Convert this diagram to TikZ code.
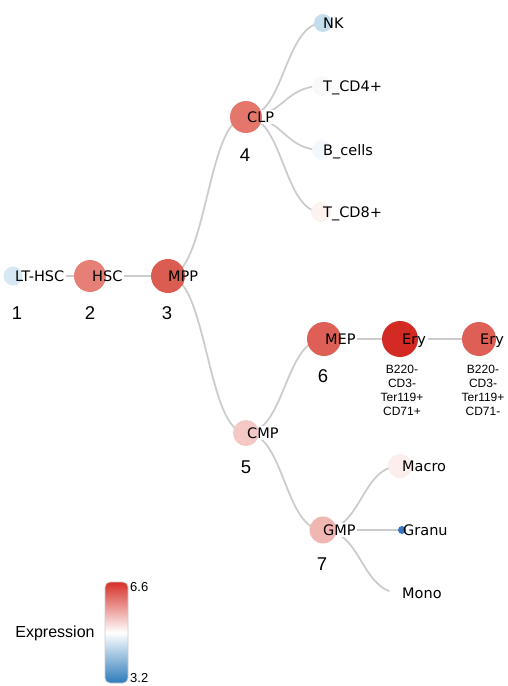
\documentclass[tikz,border=0pt]{standalone}
\usepackage{fontspec}
\setmainfont{DejaVu Sans}
\newfontfamily\arialf{Liberation Sans}
\usetikzlibrary{calc}
\pgfdeclarelayer{edges}
\pgfdeclarelayer{boxes}
\pgfdeclarelayer{cells}
\pgfsetlayers{edges,boxes,cells,main}
\definecolor{edgec}{RGB}{204,204,204}
\definecolor{cLT}{RGB}{214,232,243}
\definecolor{cHSC}{RGB}{230,128,118}
\definecolor{cMPP}{RGB}{219,92,80}
\definecolor{cCLP}{RGB}{228,118,108}
\definecolor{cCMP}{RGB}{244,200,197}
\definecolor{cMEP}{RGB}{221,95,85}
\definecolor{cEryA}{RGB}{211,43,35}
\definecolor{cEryB}{RGB}{221,95,85}
\definecolor{cGMP}{RGB}{239,182,178}
\definecolor{cNK}{RGB}{196,222,238}
\definecolor{cCDf}{RGB}{250,249,249}
\definecolor{cBc}{RGB}{244,248,252}
\definecolor{cCDe}{RGB}{252,243,240}
\definecolor{cMacro}{RGB}{251,238,236}
\definecolor{cGranu}{RGB}{50,120,190}
\definecolor{cMono}{RGB}{255,255,255}
\definecolor{cbred}{RGB}{214,48,39}
\definecolor{cbblue}{RGB}{44,123,186}
\begin{document}
\begin{tikzpicture}[x=1pt,y=-1pt,
  cell/.style={circle,inner sep=0pt,draw=none},
  lbl/.style={anchor=base west,inner sep=0pt,font=\fontsize{14.5}{17}\selectfont,yshift=-5.3pt},
  num/.style={font=\arialf\fontsize{18.5}{20}\selectfont,inner sep=0pt},
  sub/.style={font=\arialf\fontsize{12}{14.2}\selectfont,align=center,inner sep=0pt,anchor=north},
  link/.style={draw=edgec,line width=1.8pt,
    to path={let \p1=(\tikztostart), \p2=(\tikztotarget) in
      .. controls ({0.5*\x1+0.5*\x2},\y1) and ({0.5*\x1+0.5*\x2},\y2) .. (\tikztotarget)}}]
\useasboundingbox (0,0) rectangle (508,686);
% cells
\begin{pgfonlayer}{cells}
\node[cell,fill=cLT,minimum size=19pt] (lt) at (13,276) {};
\node[cell,fill=cHSC,minimum size=32pt] (hsc) at (90,276) {};
\node[cell,fill=cMPP,minimum size=34pt] (mpp) at (168,276) {};
\node[cell,fill=cCLP,minimum size=32pt] (clp) at (246,117) {};
\node[cell,fill=cCMP,minimum size=26pt] (cmp) at (246,433) {};
\node[cell,fill=cMEP,minimum size=34pt] (mep) at (324,339) {};
\node[cell,fill=cEryA,minimum size=36pt] (eryA) at (400,339) {};
\node[cell,fill=cEryB,minimum size=34pt] (eryB) at (479,339) {};
\node[cell,fill=cGMP,minimum size=27pt] (gmp) at (323,530) {};
\node[cell,fill=cNK,minimum size=18pt] (nk) at (323,23) {};
\node[cell,fill=cCDf,minimum size=20pt] (cdf) at (322,86) {};
\node[cell,fill=cBc,minimum size=20pt] (bc) at (322,150) {};
\node[cell,fill=cCDe,minimum size=20pt] (cde) at (321,212) {};
\node[cell,fill=cMacro,minimum size=24pt] (macro) at (400,466) {};
\node[cell,fill=cGranu,minimum size=8pt] (granu) at (402,530) {};
\node[cell,fill=cMono,minimum size=22pt] (mono) at (400,593) {};
\end{pgfonlayer}
% links
\begin{pgfonlayer}{edges}
\draw[link] (lt.center) to (hsc.center);
\draw[link] (hsc.center) to (mpp.center);
\draw[link] (mpp.center) to (clp.center);
\draw[link] (mpp.center) to (cmp.center);
\draw[link] (clp.center) to (nk.center);
\draw[link] (clp.center) to (cdf.center);
\draw[link] (clp.center) to (bc.center);
\draw[link] (clp.center) to (cde.center);
\draw[link] (cmp.center) to (mep.center);
\draw[link] (cmp.center) to (gmp.center);
\draw[link] (mep.center) to (eryA.center);
\draw[link] (eryA.center) to (eryB.center);
\draw[link] (gmp.center) to (macro.center);
\draw[link] (gmp.center) to (granu.center);
\draw[link] (gmp.center) to (mono.center);
\end{pgfonlayer}
% labels
\node[lbl] (tlt) at (15,276) {LT-HSC};
\node[lbl] (thsc) at (92,276) {HSC};
\node[lbl] (tmpp) at (168,276) {MPP};
\node[lbl] (tclp) at (247,117) {CLP};
\node[lbl] (tcmp) at (247,433) {CMP};
\node[lbl] (tmep) at (325,339) {MEP};
\node[lbl] (teryA) at (402,339) {Ery};
\node[lbl] (teryB) at (480,339) {Ery};
\node[lbl] (tgmp) at (323,530) {GMP};
\node[lbl] (tnk) at (323,23) {NK};
\node[lbl] (tcdf) at (323,86) {T\_CD4+};
\node[lbl] (tbc) at (323,150) {B\_cells};
\node[lbl] (tcde) at (323,212) {T\_CD8+};
\node[lbl] (tmacro) at (402,466) {Macro};
\node[lbl] (tgranu) at (403,530) {Granu};
\node[lbl] (tmono) at (402,593) {Mono};
% label backgrounds (hide links, sit under the cells)
\begin{pgfonlayer}{boxes}
\foreach \t in {tlt,thsc,tmpp,tclp,tcmp,tmep,teryA,teryB,tgmp,tnk,tcdf,tbc,tcde,tmacro,tgranu,tmono}
  \fill[white] ([shift={(-1pt,-1.5pt)}]\t.south west) rectangle ([shift={(1.5pt,1.5pt)}]\t.north east);
\end{pgfonlayer}
% numbers
\node[num] (n1) at (17,313) {1};
\node[num] (n2) at (90,313) {2};
\node[num] (n3) at (167,313) {3};
\node[num] (n4) at (245,155) {4};
\node[num] (n5) at (246,467) {5};
\node[num] (n6) at (323,376) {6};
\node[num] (n7) at (322,564) {7};
% sublabels
\node[sub] (sA) at (402,364.5) {B220-\\CD3-\\Ter119+\\CD71+};
\node[sub] (sB) at (483,364.5) {B220-\\CD3-\\Ter119+\\CD71-};
% colour bar
\shadedraw[draw=black!20,line width=0.8pt,rounded corners=5pt,top color=cbred,bottom color=cbblue,middle color=white] (105,582) rectangle (128,683);
\node[anchor=west,inner sep=0pt,font=\arialf\fontsize{13}{15}\selectfont] (vmax) at (130,587) {6.6};
\node[anchor=west,inner sep=0pt,font=\arialf\fontsize{13}{15}\selectfont] (vmin) at (130,678.5) {3.2};
\node[inner sep=0pt,font=\arialf\fontsize{16}{18}\selectfont] (expr) at (55,633) {Expression};
\end{tikzpicture}
\end{document}
